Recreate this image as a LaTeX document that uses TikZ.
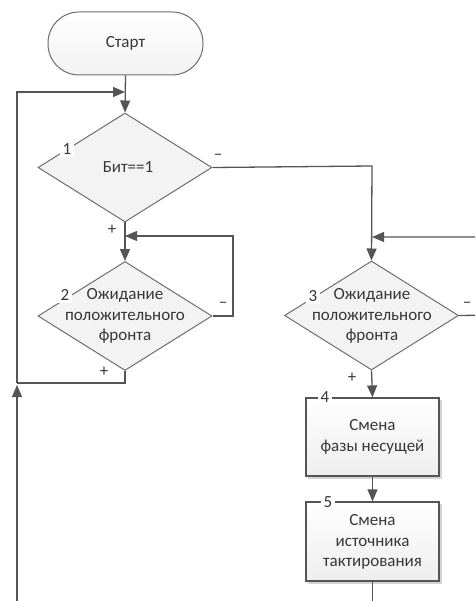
\documentclass[tikz,border=0pt]{standalone}
\usepackage{fontspec}
\setmainfont{Carlito}
\usetikzlibrary{shapes.geometric,arrows.meta}
\definecolor{linegray}{RGB}{85,85,85}
\definecolor{bordergray}{RGB}{110,110,110}
\definecolor{diafill}{RGB}{243,243,243}
\definecolor{boxlow}{RGB}{238,238,238}
\definecolor{termlow}{RGB}{242,242,242}
\definecolor{shadowgray}{RGB}{212,212,212}
\definecolor{textgray}{RGB}{55,55,55}
\begin{document}
\begin{tikzpicture}[x=1pt,y=-1pt,
  font=\fontsize{17}{20.5}\selectfont,
  line/.style={draw=linegray,line width=1.3pt},
  arr/.style={line,-{Triangle[length=12pt,width=10pt]}},
  terminal/.style={draw=bordergray,line width=1pt,rounded corners=31pt,
    minimum width=155pt,minimum height=63pt,inner sep=0pt,
    top color=white,bottom color=termlow},
  decision/.style={diamond,draw=bordergray,line width=1pt,fill=diafill,
    minimum width=174pt,minimum height=109pt,inner sep=0pt,aspect=1.6},
  process/.style={rectangle,draw=linegray,line width=1.2pt,
    minimum width=133pt,minimum height=78pt,inner sep=0pt,
    top color=white,bottom color=boxlow},
  shade/.style={fill=shadowgray,draw=none},
  txt/.style={align=center,text=textgray,inner sep=0pt},
  num/.style={fill=white,inner sep=2.5pt,text=textgray},
  sign/.style={text=textgray,inner sep=0pt}]
\useasboundingbox (0,0) rectangle (475,601);
\clip (0,0) rectangle (475,601);

% soft shadows behind the boxes
\fill[shade] (308,400) rectangle (441.5,478.5);
\fill[shade] (308,504) rectangle (441.5,583.5);

% shapes
\node[terminal] (start) at (125.5,43.5) {};
\node[txt] at (start) {Старт};

\node[decision] (d1) at (125,167.5) {};
\node[txt] at (128,167) {Бит==1};
\node[num] at (67,149) {1};

\node[decision] (d2) at (125,316) {};
\node[txt] at (125,316) {Ожидание\\положительного\\фронта};
\node[num] at (65,295) {2};

\node[decision] (d3) at (371.5,315.5) {};
\node[txt] at (372,316) {Ожидание\\положительного\\фронта};
\node[num] at (313,296) {3};

\node[process] (p4) at (372.5,437) {};
\node[txt] at (372.5,437) {Смена\\фазы несущей};
\node[num] at (325,397) {4};

\node[process,minimum height=79pt] (p5) at (372.5,541.5) {};
\node[txt] at (372.5,542) {Смена\\источника\\тактирования};
\node[num] at (328,502) {5};

% free ends and corners of the loops
\coordinate (top) at (125,92);
\coordinate (jl) at (17,383);
\coordinate (bl) at (17,620);
\coordinate (r1) at (372,166);
\coordinate (loop2) at (233,236);
\coordinate (r3) at (495,315);
\coordinate (loop3) at (372,237);
\coordinate (bot) at (372.5,620);

% connectors
\draw[arr] (start.south) -- (d1.north);
\draw[arr] (d1.south) -- (d2.north);
\draw[arr] (d1.east) -- (r1) -- (d3.north);
\draw[arr] (d2.east) -- (loop2 |- d2.east) -- (loop2) -- (d2.north |- loop2);
\draw[line] (d2.south) -- (d2.south |- jl) -- (jl);
\draw[arr] (bl) -- (17,385);
\draw[arr] (jl) -- (jl |- top) -- (top);
\draw[arr] (d3.east) -- (r3) -- (r3 |- loop3) -- (loop3);
\draw[arr] (d3.south) -- (p4.north);
\draw[arr] (p4.south) -- (p5.north);
\draw[line] (p5.south) -- (bot);

% branch signs
\node[sign] at (218,157) {–};
\node[sign] at (112,230) {+};
\node[sign] at (223,305) {–};
\node[sign] at (104,372) {+};
\node[sign] at (467,305) {–};
\node[sign] at (352,378) {+};
\end{tikzpicture}
\end{document}
